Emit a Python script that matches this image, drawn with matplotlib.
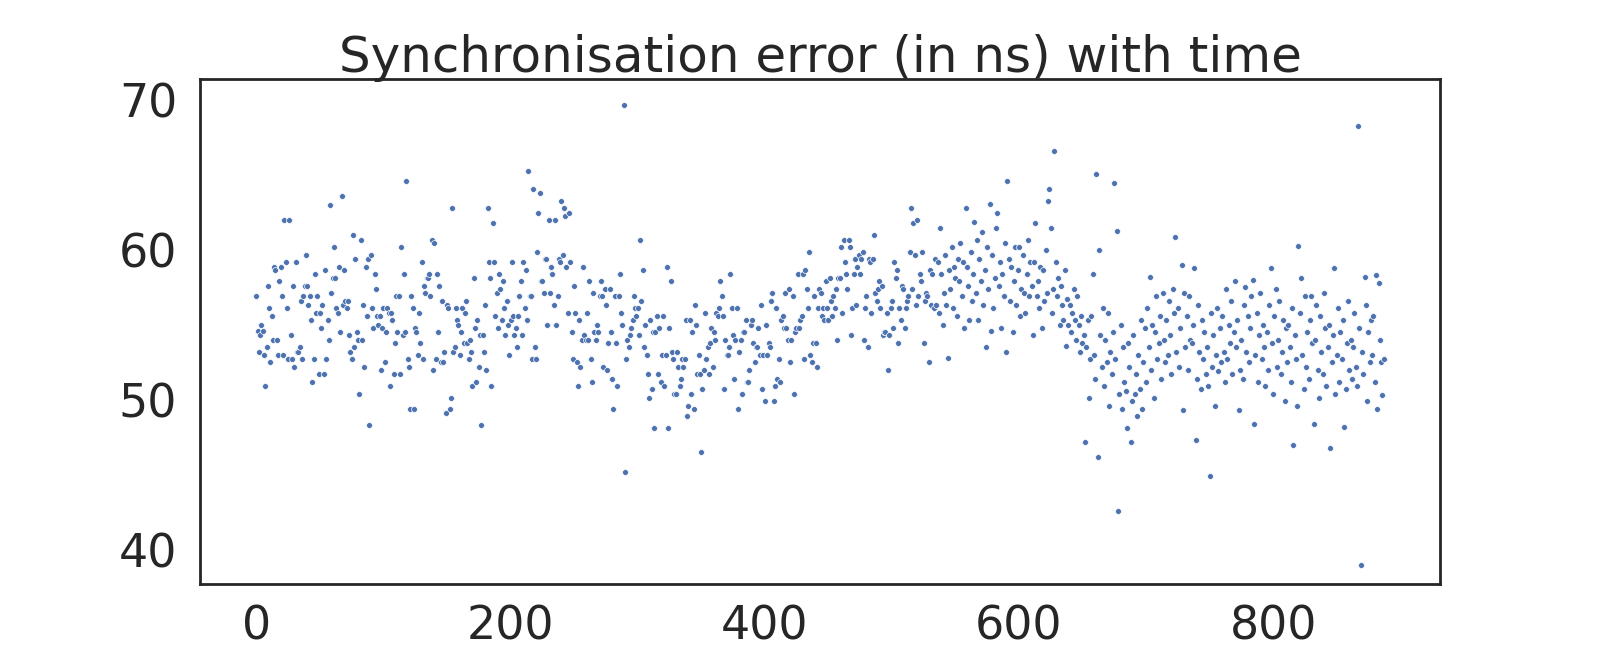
import numpy as np
import matplotlib.pyplot as plt
import seaborn as sns

# synchronisation error samples (ns) in order of time
err_a = [56.9, 54.6, 53.2, 54.3, 55.0, 54.6, 53.0, 50.9, 53.5, 57.6, 56.1, 52.5, 55.6, 54.0, 58.9, 58.7,
         54.0, 53.0, 57.9, 58.9, 56.9, 53.0, 62.0, 59.2, 56.1, 52.7, 62.0, 54.3, 52.7, 57.6, 52.2, 59.2,
         53.2, 53.2, 53.5, 56.6, 52.7, 56.9, 57.6, 59.7, 57.6, 56.3, 56.9, 55.3, 51.2, 52.7, 58.4, 55.8]
err_b = [56.9, 51.7, 55.8, 54.8, 56.3, 51.7, 58.7, 52.7, 55.3, 54.0, 63.0, 57.1, 58.1, 60.2, 58.1, 56.1,
         55.8, 58.9, 54.5, 63.6, 56.3, 58.7, 56.6, 56.1, 56.6, 54.3, 53.2, 52.7, 61.0, 53.5, 59.4, 54.5,
         54.0, 50.4, 60.7, 54.0, 56.3, 52.2, 58.9, 55.6, 59.4, 48.3, 59.7, 56.1, 54.8, 58.4, 57.4, 55.6,
         55.0, 55.6, 52.0, 54.8, 56.1, 52.5, 54.5]
err_c = [56.1, 55.8, 50.9, 55.8, 55.3, 51.7, 53.8, 56.9, 54.5, 56.9, 51.7, 60.2, 54.3, 58.4, 54.5, 64.6,
         52.7, 52.2, 49.4, 56.9, 56.1, 49.4, 54.8, 54.5, 53.0, 55.8, 53.8, 59.2, 52.7, 57.6, 57.1, 58.1,
         58.1, 58.4, 56.9, 60.7, 52.0, 60.5, 52.7, 58.4, 54.5, 57.6, 52.5, 56.6, 52.5, 53.2, 49.1, 56.3,
         56.1, 49.4, 50.1, 62.8]
err_d = [53.2, 53.5, 56.1, 55.3, 55.0, 53.0, 54.5, 56.1, 53.8, 55.8, 56.6, 53.8, 52.7, 54.0, 53.2, 50.9,
         58.1, 54.8, 51.2, 55.3, 52.2, 54.3, 48.3, 54.3, 53.2, 56.3, 52.0, 62.8, 59.2, 58.1, 50.9, 61.8,
         59.2, 55.6, 57.1, 54.8, 58.4, 57.4, 55.3, 57.9, 56.1, 54.3, 56.6, 55.0, 53.0, 55.3, 59.2, 55.6,
         54.3, 54.8, 53.5, 55.6, 56.9, 57.9, 54.3, 59.2, 56.1, 58.7]
err_e = [55.3, 65.3, 56.9, 56.9, 52.7, 64.1, 53.5, 52.7, 59.9, 62.5, 63.8, 57.9, 57.9, 57.1, 59.4, 59.4,
         55.0, 62.0, 57.1, 58.9, 58.4, 56.3, 62.0, 55.0, 56.9, 59.4, 59.2, 63.3, 59.7, 62.8, 62.3, 58.9,
         55.8, 62.5, 59.2, 54.5, 52.7, 57.6, 55.8, 52.5, 50.9, 55.3, 52.2, 54.0, 58.9, 54.3, 54.0, 55.8,
         54.0, 57.9, 52.7, 51.2, 57.1, 54.5, 54.0]
err_f = [55.0, 54.5, 56.9, 57.9, 56.9, 52.2, 57.4, 56.3, 52.0, 53.8, 57.4, 54.5, 51.4, 49.4, 56.9, 53.8,
         50.9, 56.9, 58.4, 55.8, 55.0, 69.7, 45.2, 52.7, 54.0, 53.5, 54.3, 54.8, 55.3, 56.9, 56.1, 55.6,
         56.1, 54.3, 60.7, 56.6, 58.7, 53.5, 55.0, 53.0, 51.7, 50.1, 55.3, 50.7, 54.5, 48.1, 54.5, 55.6,
         51.7, 54.8, 51.2, 53.0, 55.6]
err_g = [50.9, 53.0, 58.9, 48.1, 54.8, 57.9, 53.2, 52.7, 50.4, 50.4, 53.2, 52.2, 50.9, 51.4, 52.7, 52.2,
         52.7, 55.3, 48.9, 49.6, 55.3, 50.4, 54.5, 49.4, 56.3, 55.0, 51.7, 53.0, 51.7, 46.5, 50.7, 52.0,
         55.8, 52.7, 53.5, 51.7, 53.8, 54.8, 52.2, 54.5, 54.0, 55.8, 55.6, 56.1, 57.9, 56.9, 55.6, 50.7,
         54.0, 53.0, 53.0, 53.5, 58.4, 56.1, 54.3, 51.4]
err_h = [54.0, 56.1, 49.4, 53.2, 54.0, 50.4, 54.5, 54.5, 55.3, 51.2, 51.2, 52.0, 55.0, 55.3, 53.8, 52.5,
         53.5, 53.5, 54.8, 53.0, 56.3, 50.7, 53.0, 49.9, 55.0, 53.0, 53.8, 53.5, 56.6, 57.1, 49.9, 50.9,
         56.1, 51.4, 52.7, 51.2, 55.3, 55.6, 54.8, 57.1, 54.8, 54.0, 57.4, 52.5, 54.0, 56.9, 50.4, 54.5,
         54.8, 58.4, 54.8, 55.3, 55.6]
err_i = [58.4, 52.7, 58.7, 57.4, 56.1, 59.9, 53.0, 52.5, 53.8, 56.9, 53.8, 52.2, 56.1, 57.4, 57.1, 55.6,
         56.1, 55.3, 57.9, 56.1, 55.3, 58.1, 56.6, 55.6, 56.9, 56.1, 57.4, 54.0, 58.1, 58.1, 60.2, 55.8,
         60.7, 59.2, 58.4, 57.4, 60.7, 60.2, 54.3, 56.1, 58.4, 59.4, 56.3, 58.9, 59.7, 58.4, 59.4, 59.9,
         54.0, 56.1, 56.9, 53.5, 59.4]
err_j = [59.2, 55.8, 59.4, 61.0, 57.1, 56.6, 57.4, 57.9, 56.1, 57.6, 54.3, 54.5, 54.5, 55.8, 52.0, 54.3,
         56.1, 56.6, 54.8, 59.2, 58.1, 58.7, 53.8, 56.1, 55.3, 57.6, 57.4, 54.8, 56.1, 56.6, 56.9, 59.9,
         62.8, 57.4, 61.8, 59.7, 56.3, 62.0, 56.9, 58.4, 57.9, 59.9, 53.8, 56.6, 57.1, 56.9, 52.5, 58.7,
         56.3, 58.4, 56.1, 59.4, 56.3, 59.2, 55.8, 61.5]
err_k = [58.4, 55.0, 57.1, 59.7, 56.3, 52.8, 58.7, 57.4, 60.2, 56.1, 58.9, 58.1, 55.6, 59.4, 57.9, 60.5,
         56.9, 59.2, 54.8, 62.8, 58.9, 57.6, 55.3, 59.9, 56.6, 58.4, 61.9, 57.1, 60.7, 55.3, 59.4, 57.9,
         61.2, 56.3, 58.7, 53.5, 60.2, 57.4, 63.1, 54.6, 59.7, 56.1, 58.1, 61.5, 62.5, 57.6, 59.2, 54.8,
         58.4, 56.9, 60.5, 53.2, 64.6, 59.4, 56.6, 58.9, 54.5, 57.9, 60.2, 56.3, 58.7, 60.2, 55.6, 57.4]
err_l = [59.7, 57.1, 55.8, 58.4, 60.7, 56.9, 59.2, 57.6, 54.3, 59.2, 61.8, 56.9, 57.9, 56.1, 58.9, 54.8,
         58.7, 56.6, 60.0, 57.1, 63.3, 64.1, 61.5, 55.8, 57.4, 66.6, 59.2, 56.9, 58.1, 55.0, 57.6, 56.3,
         55.3, 58.7, 53.6, 56.7, 55.0, 56.3, 54.5, 55.8, 57.4, 55.3, 54.0, 56.9, 55.0, 53.2, 55.6, 53.8,
         54.3, 47.2, 53.5, 55.3, 50.1, 52.7, 55.6, 58.4, 53.0, 51.4, 65.1, 46.2, 60.0, 54.3, 52.2, 56.1]
err_m = [50.9, 54.0, 52.5, 55.8, 49.6, 53.2, 51.7, 54.5, 64.5, 52.7, 61.3, 42.6, 50.4, 55.0, 49.4, 53.5,
         51.2, 50.6, 48.1, 53.8, 52.2, 47.2, 49.9, 54.3, 50.4, 51.7, 48.9, 53.0, 50.7, 55.3, 49.4, 52.5,
         54.8, 51.2, 56.1, 53.5, 58.2, 52.0, 55.0, 50.1, 54.5, 56.9, 52.7, 53.8, 55.6, 51.4, 57.1, 54.0,
         52.5, 55.3, 53.0, 56.6, 54.3, 51.7, 57.4, 55.8, 60.9, 53.2, 56.1, 52.2, 54.8, 59.0, 49.3, 57.1]
err_n = [53.5, 55.6, 52.0, 56.9, 54.0, 53.8, 55.0, 58.8, 47.3, 51.4, 56.3, 53.2, 50.7, 55.3, 52.7, 54.5,
         51.7, 53.5, 50.9, 44.9, 55.8, 52.2, 54.3, 49.6, 53.0, 56.1, 51.9, 54.8, 52.5, 55.6, 53.2, 51.2,
         57.4, 52.7, 55.0, 53.8, 56.6, 51.7, 54.5, 57.9, 53.5, 55.3, 49.3, 52.0, 54.0, 51.4, 56.3, 57.5,
         53.2, 55.6, 52.5, 54.8, 56.9, 58.0, 48.4, 53.0, 55.8, 51.2, 54.3, 57.1, 52.7, 55.0, 53.5, 50.9]
err_o = [54.5, 52.0, 56.3, 58.8, 53.8, 50.4, 55.6, 57.4, 52.2, 54.0, 56.6, 51.7, 53.2, 55.3, 49.9, 54.8,
         52.5, 55.0, 53.5, 51.2, 56.1, 47.0, 54.3, 52.7, 49.6, 60.3, 55.8, 58.1, 53.0, 50.7, 56.9, 52.2,
         54.5, 51.4, 55.3, 56.9, 53.8, 48.4, 54.0, 56.3, 52.0, 50.1, 55.6, 53.2, 51.7, 57.1, 54.8, 50.9,
         53.5, 55.0, 46.8, 52.5, 54.3, 58.8, 50.4, 53.0, 56.1, 51.2, 54.5, 52.7, 55.3, 48.2, 50.7, 53.8]
err_p = [56.6, 52.0, 54.0, 51.4, 53.5, 55.8, 52.2, 50.9, 68.3, 54.8, 39.0, 53.2, 51.7, 58.2, 56.3, 49.9,
         54.5, 52.5, 55.3, 53.0, 55.6, 51.2, 58.3, 49.4, 57.8, 54.0, 52.5, 50.3, 52.7]

errors = np.array(err_a + err_b + err_c + err_d + err_e + err_f + err_g + err_h
                  + err_i + err_j + err_k + err_l + err_m + err_n + err_o + err_p)
t = np.arange(len(errors))

sns.set_theme(style="white", context="poster")
plt.rcParams['font.family'] = ['DejaVu Sans']

fig = plt.figure(figsize=(16, 6.55), dpi=100)
ax = fig.add_axes([0.125, 0.1089, 0.775, 0.7711])
ax.scatter(t, errors, s=18, color='#4c72b0', edgecolor='white', linewidth=0.5)

ax.set_title("Synchronisation error (in ns) with time", fontsize=36, pad=5)
ax.set_ylim(37.75, 71.43)
ax.set_xticks([0, 200, 400, 600, 800])
ax.set_yticks([40, 50, 60, 70])
ax.tick_params(axis='both', labelsize=33, length=0)
ax.tick_params(axis='x', pad=15)
ax.tick_params(axis='y', pad=16.5)
for sp in ax.spines.values():
    sp.set_linewidth(2.0)
    sp.set_color('#262626')

fig.savefig("out.png", dpi=100)
